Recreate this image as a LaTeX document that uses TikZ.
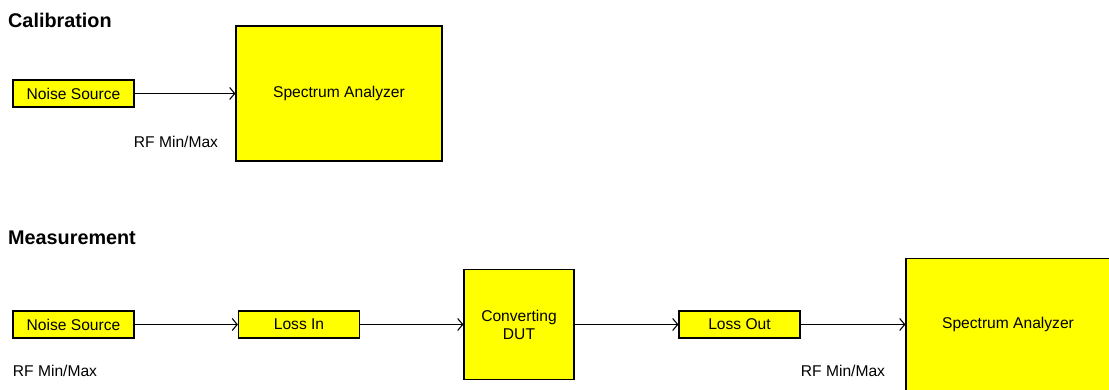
\documentclass[tikz,border=0pt]{standalone}
\usepackage{fontspec}
\setmainfont{Liberation Sans}
\usetikzlibrary{arrows.meta}
\definecolor{BoxClr}{rgb}{1,1,0}

\tikzset{
  blk/.style={draw=black,fill=BoxClr,line width=1.2pt,inner sep=0pt,align=center,
    font=\fontsize{15.6}{18}\selectfont},
  small/.style={blk,minimum width=121pt,minimum height=27pt},
  lbl/.style={inner sep=0pt,font=\fontsize{15.6}{18}\selectfont},
  ttl/.style={inner sep=0pt,anchor=west,font=\fontsize{19.8}{23}\selectfont\bfseries},
  wire/.style={-{Straight Barb[length=5pt,width=12pt]},line width=1.1pt}
}

\begin{document}
\begin{tikzpicture}[x=1pt,y=-1pt]
\useasboundingbox (0,0) rectangle (1109,390);
\clip (0,0) rectangle (1109,390);

% calibration
\node[ttl] (calT) at (8,20) {Calibration};
\node[small] (calNS) at (73.5,93.5) {Noise Source};
\node[blk,minimum width=206pt,minimum height=135pt] (calSA) at (339,93.5) {Spectrum Analyzer};
\node[lbl] (calRF) at (176,142) {RF Min/Max};
\draw[wire] (calNS) -- (calSA);

% measurement
\node[ttl] (measT) at (8,238) {Measurement};
\node[small] (measNS) at (73.5,324.5) {Noise Source};
\node[small] (lossIn) at (299,324.5) {Loss In};
\node[blk,minimum width=110pt,minimum height=110pt] (dut) at (519,324.5) {Converting\\DUT};
\node[small] (lossOut) at (739.5,324.5) {Loss Out};
\node[blk,minimum width=204pt,minimum height=132pt] (measSA) at (1008,324.5) {Spectrum Analyzer};
\node[lbl] (measRF1) at (55,371) {RF Min/Max};
\node[lbl] (measRF2) at (843,371) {RF Min/Max};

\draw[wire] (measNS) -- (lossIn);
\draw[wire] (lossIn) -- (dut);
\draw[wire] (dut) -- (lossOut);
\draw[wire] (lossOut) -- (measSA);

\end{tikzpicture}
\end{document}
